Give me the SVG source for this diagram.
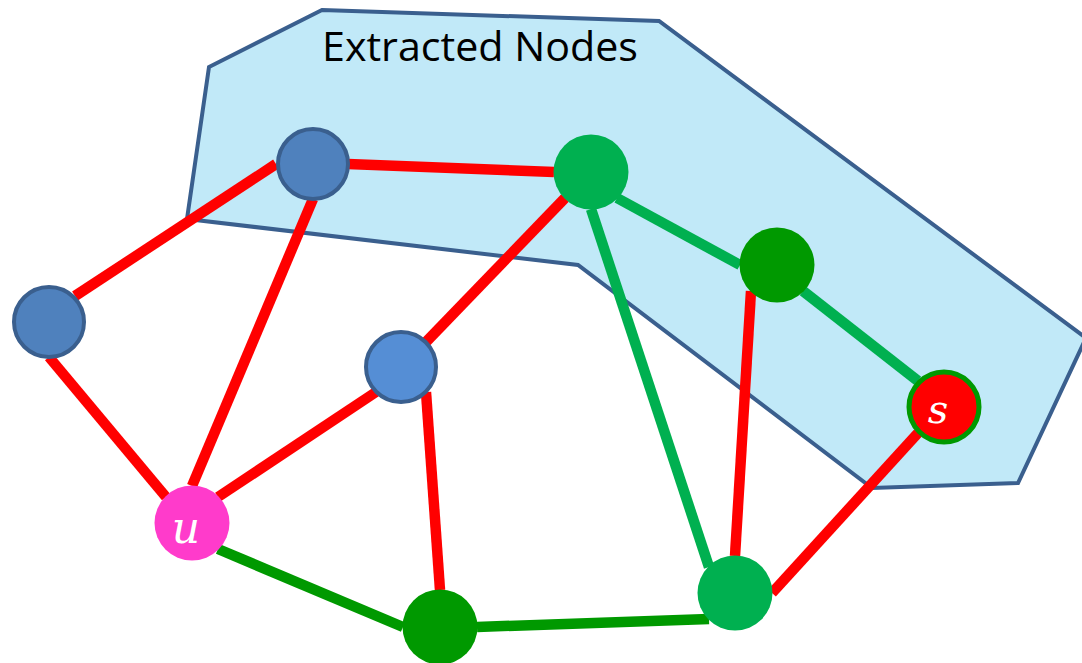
<svg xmlns="http://www.w3.org/2000/svg" width="1082" height="663" viewBox="0 0 1082 663">
  <style>
    .edge { stroke-width: 10.5; stroke-linecap: butt; fill: none; }
    .red { stroke: #FF0000; }
    .lgreen { stroke: #00B050; }
    .dgreen { stroke: #009900; }
    .blue { fill: #4F81BD; stroke: #3A5F8E; stroke-width: 4; }
    .lblue { fill: #558ED5; stroke: #3A5F8E; stroke-width: 4; }
    .g1 { fill: #00B050; }
    .g2 { fill: #009900; }
    .lbl { font-family: "DejaVu Serif", "Liberation Serif", serif; font-style: italic; fill: #FFFFFF; text-anchor: middle; }
  </style>

  <!-- highlighted region -->
  <g id="region">
    <polygon points="322,10 659,21 1086,338 1018,483 872,488 578,265 187,219 209,67" fill="#C1E9F8" stroke="#3A5F8E" stroke-width="4" stroke-linejoin="miter"/>
    <text x="322" y="61" font-family="Open Sans, Noto Sans, sans-serif" font-size="41" fill="#000000" textLength="316" lengthAdjust="spacingAndGlyphs">Extracted Nodes</text>
  </g>

  <!-- edges attach to the circles' connection points -->
  <g id="connectors">
    <line class="edge red" x1="75" y1="296" x2="276" y2="164"/>
    <line class="edge red" x1="49" y1="357" x2="166" y2="497"/>
    <line class="edge red" x1="313" y1="199" x2="192" y2="486"/>
    <line class="edge red" x1="348" y1="164" x2="554" y2="172"/>
    <line class="edge red" x1="565" y1="198" x2="426" y2="342"/>
    <line class="edge red" x1="376" y1="392" x2="218" y2="497"/>
    <line class="edge red" x1="426" y1="392" x2="440" y2="590"/>
    <line class="edge red" x1="751" y1="291" x2="735" y2="556"/>
    <line class="edge red" x1="918" y1="433" x2="772" y2="593"/>
    <line class="edge lgreen" x1="617" y1="198" x2="740" y2="265"/>
    <line class="edge lgreen" x1="803" y1="291" x2="918" y2="381"/>
    <line class="edge lgreen" x1="591" y1="209" x2="709" y2="567"/>
    <line class="edge dgreen" x1="218" y1="549" x2="403" y2="627"/>
    <line class="edge dgreen" x1="477" y1="627" x2="709" y2="619"/>
  </g>

  <g id="node-left"><circle class="blue" cx="49" cy="322" r="35"/></g>
  <g id="node-top"><circle class="blue" cx="313" cy="164" r="35"/></g>
  <g id="node-mid"><circle class="lblue" cx="401" cy="367" r="35"/></g>
  <g id="node-green-top"><circle class="g1" cx="591" cy="172" r="37.5"/></g>
  <g id="node-green-right"><circle class="g2" cx="777" cy="265" r="37.5"/></g>
  <g id="node-green-bottom-right"><circle class="g1" cx="735" cy="593" r="37.5"/></g>
  <g id="node-green-bottom"><circle class="g2" cx="440" cy="627" r="37.5"/></g>
  <g id="node-u">
    <circle cx="192" cy="523" r="37.5" fill="#FF3BCB"/>
    <text class="lbl" x="186" y="543" font-size="44">u</text>
  </g>
  <g id="node-s">
    <circle cx="944" cy="407" r="35" fill="#FF0000" stroke="#009900" stroke-width="5"/>
    <text class="lbl" x="938" y="423" font-size="40">s</text>
  </g>
</svg>
